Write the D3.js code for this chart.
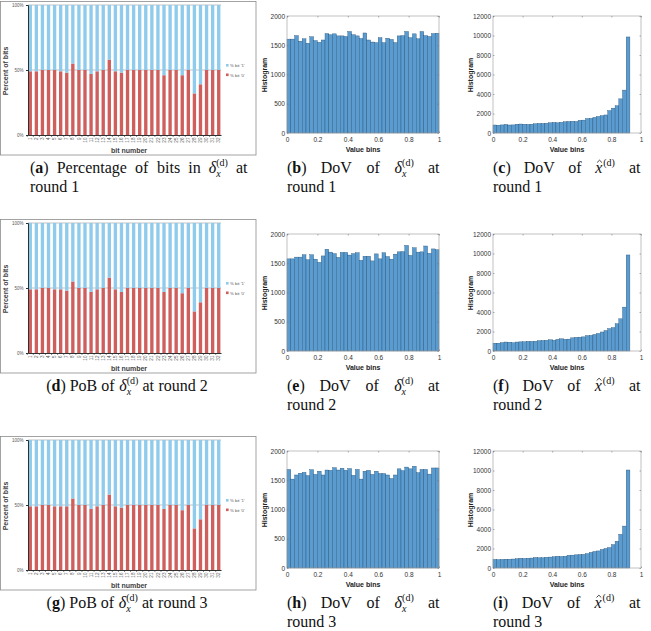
<!DOCTYPE html>
<html>
<head>
<meta charset="utf-8">
<script src="https://cdn.jsdelivr.net/npm/d3@7"></script>
<style>body{margin:0;background:#fff}</style>
</head>
<body>
<script>
// ---- data ----
const bitLabels = ["1","2","3","4","5","6","7","8","9","10","11","12","13","14","15","16",
  "17","18","19","20","21","22","23","24","25","26","27","28","29","30","31","32"];
const bitYTicks = [0, 50, 100];
const legendLabels = ["% bit '1'", "% bit '0'"];

// percentage of bit '0' per bit number
const bitZeroRound1 = [49,49,50,50,50,49,48,55,50,50,47,49,50,58,49,48,50,50,50,50,50,50,46,50,50,46,50,32,39,50,50,50];
const bitZeroRound2 = [49,49,50,50,49,49,48,55,50,50,47,49,50,58,49,47,50,50,50,50,50,50,47,50,50,46,50,32,39,50,50,50];
const bitZeroRound3 = [49,49,50,50,49,49,49,55,50,50,47,49,50,58,49,48,50,50,50,50,50,50,47,50,50,46,50,32,39,50,50,50];

// DoV of delta (40 bins over [0,1])
const deltaHistRound1 = [1605,1605,1665,1570,1610,1535,1645,1580,1550,1590,1700,1680,1695,1660,1660,1650,1735,1680,1660,1615,
  1710,1590,1555,1545,1630,1545,1620,1600,1545,1660,1665,1735,1630,1695,1610,1735,1665,1650,1700,1705];
const deltaHistRound2 = [1575,1575,1605,1605,1645,1560,1645,1570,1515,1625,1740,1690,1665,1600,1685,1685,1640,1665,1680,1550,
  1620,1620,1540,1660,1575,1680,1615,1570,1655,1695,1700,1805,1635,1765,1690,1695,1795,1670,1745,1730];
const deltaHistRound3 = [1685,1520,1590,1620,1635,1580,1680,1600,1655,1590,1675,1670,1715,1675,1705,1670,1700,1585,1685,1520,
  1655,1670,1600,1655,1615,1615,1590,1530,1590,1695,1665,1725,1695,1740,1630,1685,1685,1605,1710,1710];
const deltaBinWidth = 0.025;

// DoV of x-hat (37 bins of 0.025)
const xhatHistRound1 = [820,800,830,880,820,830,900,920,900,880,900,950,980,980,1000,1050,1080,1050,1100,1150,
  1180,1200,1180,1300,1320,1480,1500,1600,1700,1780,1850,2300,2550,2800,3500,4400,9850];
const xhatHistRound2 = [800,800,860,920,900,850,920,940,950,990,980,1000,1060,1080,1100,1150,1100,1200,1250,1200,
  1220,1350,1400,1420,1450,1580,1600,1700,1800,1950,2100,2300,2400,2800,3300,4500,9850];
const xhatHistRound3 = [880,860,880,900,900,920,950,1000,980,1000,1020,1080,1050,1050,1100,1120,1150,1200,1180,1200,
  1300,1320,1350,1380,1400,1480,1600,1700,1750,1900,2000,2100,2400,2750,3450,4300,10050];
const xhatBinWidth = 0.025;

const histXTicks = [0, 0.2, 0.4, 0.6, 0.8, 1];
const deltaYTicks = [0, 500, 1000, 1500, 2000];
const xhatYTicks = [0, 2000, 4000, 6000, 8000, 10000, 12000];

const rounds = [
  {zero: bitZeroRound1, delta: deltaHistRound1, xhat: xhatHistRound1, letters: ["a","b","c"], name: "round 1"},
  {zero: bitZeroRound2, delta: deltaHistRound2, xhat: xhatHistRound2, letters: ["d","e","f"], name: "round 2"},
  {zero: bitZeroRound3, delta: deltaHistRound3, xhat: xhatHistRound3, letters: ["g","h","i"], name: "round 3"}
];
const rowY = [0, 218, 435];

const serif = "'Liberation Serif','DejaVu Serif',serif";
const sans = "'Liberation Sans',Arial,sans-serif";
const capSize = 16;
const red = "#cf5f5c", blue = "#8fcbec";

const svg = d3.select("body").append("svg")
  .attr("width", 651).attr("height", 631);

function bitChart(g, zero) {
  g.append("rect").attr("x", 0.5).attr("y", 1.5).attr("width", 255.5).attr("height", 153.5)
    .attr("fill", "none").attr("stroke", "#8c8c8c").attr("stroke-width", 0.8);

  const x = d3.scaleBand().domain(bitLabels).range([28, 221]).paddingInner(0.45).paddingOuter(0.1);
  const y = d3.scaleLinear().domain([0, 100]).range([135, 5]);

  g.append("g").selectAll("line").data(bitYTicks.slice(1)).join("line")
    .attr("x1", 28).attr("x2", 221).attr("y1", d => y(d)).attr("y2", d => y(d))
    .attr("stroke", "#a6a6a6").attr("stroke-width", 0.7);

  const rows = bitLabels.map((b, i) => ({bit: b, zero: zero[i], one: 100 - zero[i]}));
  const series = d3.stack().keys(["zero", "one"])(rows);
  const colors = {zero: red, one: blue};

  g.append("g").selectAll("g").data(series).join("g")
    .attr("fill", d => colors[d.key])
    .selectAll("rect").data(d => d).join("rect")
    .attr("x", d => x(d.data.bit)).attr("width", x.bandwidth())
    .attr("y", d => y(d[1])).attr("height", d => y(d[0]) - y(d[1]));

  const ya = g.append("g").attr("transform", "translate(28,0)")
    .call(d3.axisLeft(y).tickValues(bitYTicks).tickFormat(d => d + "%").tickSize(2).tickPadding(2.5));
  ya.select(".domain").attr("stroke", "#303030").attr("stroke-width", 1);
  ya.selectAll("line").attr("stroke", "#303030");
  ya.selectAll("text").attr("font-size", 4.5).attr("font-family", sans).attr("fill", "#595959");

  const xa = g.append("g").attr("transform", "translate(0,135)")
    .call(d3.axisBottom(x).tickSize(0).tickSizeOuter(0));
  xa.select(".domain").attr("stroke", "#303030").attr("stroke-width", 1);
  xa.selectAll("text").attr("font-size", 4.6).attr("font-family", sans).attr("fill", "#595959")
    .attr("y", 0).attr("x", -2.5).attr("dy", "0.35em")
    .attr("transform", "rotate(-90)").attr("text-anchor", "end");
  // category boundary ticks
  const half = x.step() * x.paddingInner() / 2;
  xa.append("g").selectAll("line").data(bitLabels).join("line")
    .attr("x1", d => x(d) - half).attr("x2", d => x(d) - half)
    .attr("y1", 0).attr("y2", 2).attr("stroke", "#303030").attr("stroke-width", 0.6);

  g.append("text").attr("x", 129).attr("y", 152.5).attr("text-anchor", "middle")
    .attr("font-family", sans).attr("font-size", 7).attr("font-weight", "bold").attr("fill", "#404040")
    .text("bit number");
  g.append("text").attr("transform", "translate(7.5,71) rotate(-90)").attr("text-anchor", "middle")
    .attr("font-family", sans).attr("font-size", 7).attr("font-weight", "bold").attr("fill", "#404040")
    .text("Percent of bits");

  const leg = g.append("g").selectAll("g").data(legendLabels).join("g")
    .attr("transform", (d, i) => `translate(226,${65.5 + i * 9.5})`);
  leg.append("rect").attr("x", 0).attr("y", -1.5).attr("width", 2.6).attr("height", 2.6)
    .attr("fill", (d, i) => i === 0 ? blue : red);
  leg.append("text").attr("x", 4).attr("y", 1.5).attr("font-family", sans).attr("font-size", 4.3)
    .attr("fill", "#595959").text(d => d);
}

function histChart(g, counts, binWidth, yTicks, x0, x1) {
  const x = d3.scaleLinear().domain([0, 1]).range([x0, x1]);
  const y = d3.scaleLinear().domain([0, yTicks[yTicks.length - 1]]).range([133, 16]);

  g.append("g").selectAll("rect").data(counts).join("rect")
    .attr("x", (d, i) => x(i * binWidth)).attr("width", (d, i) => x((i + 1) * binWidth) - x(i * binWidth))
    .attr("y", d => y(d)).attr("height", d => y(0) - y(d))
    .attr("fill", "#5a9bd0").attr("stroke", "#1d4a70").attr("stroke-width", 0.35);

  g.append("rect").attr("x", x0).attr("y", 16).attr("width", x1 - x0).attr("height", 117)
    .attr("fill", "none").attr("stroke", "#a6a6a6").attr("stroke-width", 0.7);

  const fmt = d3.format("~g");
  const style = a => {
    a.select(".domain").remove();
    a.selectAll("line").attr("stroke", "#777").attr("stroke-width", 0.6);
    a.selectAll("text").attr("font-size", 6.5).attr("font-family", sans).attr("fill", "#333");
  };
  g.append("g").attr("transform", "translate(0,133)")
    .call(d3.axisBottom(x).tickValues(histXTicks).tickFormat(fmt).tickSize(-1.5).tickPadding(4.5)).call(style);
  g.append("g").attr("transform", "translate(0,16)")
    .call(d3.axisTop(x).tickValues(histXTicks).tickFormat("").tickSize(-1.5)).call(style);
  g.append("g").attr("transform", `translate(${x0},0)`)
    .call(d3.axisLeft(y).tickValues(yTicks).tickFormat(fmt).tickSize(-1.5).tickPadding(2)).call(style);
  g.append("g").attr("transform", `translate(${x1},0)`)
    .call(d3.axisRight(y).tickValues(yTicks).tickFormat("").tickSize(-1.5)).call(style);

  g.append("text").attr("x", (x0 + x1) / 2).attr("y", 151.5).attr("text-anchor", "middle")
    .attr("font-family", sans).attr("font-size", 7).attr("font-weight", "bold").attr("fill", "#222")
    .text("Value bins");
  g.append("text").attr("transform", `translate(${x0 - 20},75) rotate(-90)`).attr("text-anchor", "middle")
    .attr("font-family", sans).attr("font-size", 7).attr("font-weight", "bold").attr("fill", "#222")
    .text("Histogram");
}

// caption words: plain strings, {label} or the math symbols
function drawToken(parent, tok) {
  const w = parent.append("g");
  const t = w.append("text").attr("font-family", serif).attr("font-size", capSize).attr("fill", "#111");
  if (tok.label) {
    t.append("tspan").text("(");
    t.append("tspan").attr("font-weight", "bold").text(tok.label);
    t.append("tspan").text(")");
  } else if (tok === "DELTA") {
    t.append("tspan").attr("font-style", "italic").text("δ");
    const sub = t.append("tspan").attr("font-style", "italic").attr("font-size", 10).attr("dy", 4).text("x");
    const sw = sub.node().getComputedTextLength();
    t.append("tspan").attr("font-size", 10).attr("dx", -sw).attr("dy", -11).text("(d)");
  } else if (tok === "XHAT") {
    const base = t.append("tspan").attr("font-style", "italic").text("x");
    const bw = base.node().getComputedTextLength();
    t.append("tspan").attr("font-size", 10).attr("dx", 1).attr("dy", -7).text("(d)");
    // hat accent drawn as a small stroke
    const c = bw / 2 + 0.8;
    w.append("path").attr("d", `M${c - 2.4},-10.5L${c},-12.8L${c + 2.4},-10.5`)
      .attr("fill", "none").attr("stroke", "#111").attr("stroke-width", 0.8);
  } else {
    t.text(tok);
  }
  return w;
}

function placeLine(g, tokens, x0, x1, y, align) {
  const ws = tokens.map(t => drawToken(g, t));
  const widths = ws.map(w => w.node().getBBox().width);
  const total = d3.sum(widths);
  let gap = 4, start = x0;
  if (align === "justify") gap = (x1 - x0 - total) / (ws.length - 1);
  if (align === "center") start = x0 - (total + gap * (ws.length - 1)) / 2;
  let cx = start;
  ws.forEach((w, i) => { w.attr("transform", `translate(${cx},${y})`); cx += widths[i] + gap; });
}

rounds.forEach((r, k) => {
  const g = svg.append("g").attr("transform", `translate(0,${rowY[k]})`);
  bitChart(g, r.zero);
  histChart(g, r.delta, deltaBinWidth, deltaYTicks, 287, 439);
  histChart(g, r.xhat, xhatBinWidth, xhatYTicks, 493, 641);

  const [la, lb, lc] = r.letters;
  const line1 = 173, line2 = 192;
  if (k === 0) {
    placeLine(g, [{label: la}, "Percentage", "of", "bits", "in", "DELTA", "at"], 30, 248, line1, "justify");
    placeLine(g, [r.name], 30, null, line2, "left");
  } else {
    placeLine(g, [{label: la}, "PoB", "of", "DELTA", "at", "round", r.name.split(" ")[1]], 127, null, line1, "center");
  }
  placeLine(g, [{label: lb}, "DoV", "of", "DELTA", "at"], 287, 440, line1, "justify");
  placeLine(g, [r.name], 287, null, line2, "left");
  placeLine(g, [{label: lc}, "DoV", "of", "XHAT", "at"], 493, 641, line1, "justify");
  placeLine(g, [r.name], 493, null, line2, "left");
});
</script>
</body>
</html>
